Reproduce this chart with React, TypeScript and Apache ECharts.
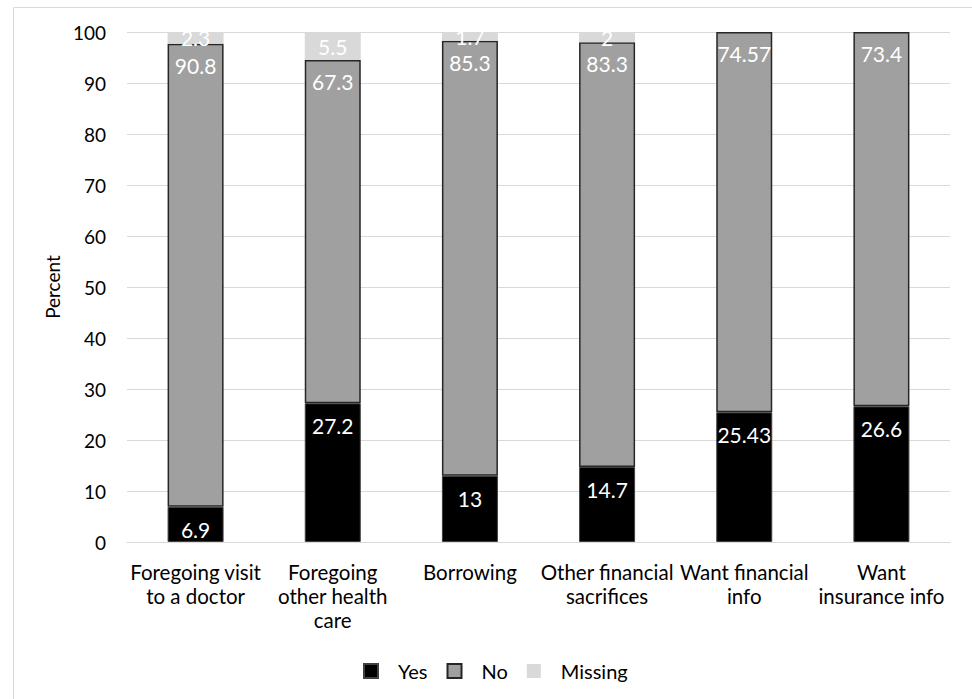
import React, { useEffect, useRef } from "react";
import * as echarts from "echarts";

const categories = [
  "Foregoing visit\nto a doctor",
  "Foregoing\nother health\ncare",
  "Borrowing",
  "Other financial\nsacrifices",
  "Want financial\ninfo",
  "Want\ninsurance info",
];
const yesValues = [6.9, 27.2, 13, 14.7, 25.43, 26.6];
const noValues = [90.8, 67.3, 85.3, 83.3, 74.57, 73.4];
const missingValues = [2.3, 5.5, 1.7, 2, null, null];
const seriesNames = ["Yes", "No", "Missing"];

const FONT = "Lato";

export default function App() {
  const ref = useRef<HTMLDivElement>(null);
  useEffect(() => {
    document.body.style.margin = "0";
    const chart = echarts.init(ref.current!, null, { renderer: "svg" });
    const labelBase = {
      show: true,
      color: "#ffffff",
      fontFamily: FONT,
      fontSize: 21,
    };
    chart.setOption({
      animation: false,
      textStyle: { fontFamily: FONT },
      grid: { left: 127, right: 22, top: 32, bottom: 157 },
      graphic: [
        {
          type: "rect",
          silent: true,
          z: -10,
          shape: { x: 13.5, y: 7.5, width: 1000, height: 1000 },
          style: { fill: "none", stroke: "#d9d9d9", lineWidth: 1 },
        },
        {
          type: "rect",
          silent: true,
          z: 100,
          shape: { x: 126, y: 8.5, width: 840, height: 22.8 },
          style: { fill: "#ffffff" },
        },
      ],
      legend: {
        data: seriesNames,
        left: 358,
        top: 656,
        icon: "rect",
        itemWidth: 14,
        itemHeight: 14,
        itemGap: 19,
        textStyle: {
          fontFamily: FONT,
          fontSize: 20,
          color: "#000",
          padding: [0, 0, 0, 15],
        },
      },
      xAxis: {
        type: "category",
        data: categories,
        axisLine: { show: true, lineStyle: { color: "#d9d9d9", width: 1 } },
        axisTick: { show: false },
        axisLabel: {
          color: "#000",
          fontFamily: FONT,
          fontSize: 20.5,
          lineHeight: 24,
          margin: 18,
          interval: 0,
        },
      },
      yAxis: {
        type: "value",
        min: 0,
        max: 100,
        interval: 10,
        name: "Percent",
        nameLocation: "middle",
        nameGap: 64,
        nameTextStyle: { color: "#000", fontFamily: FONT, fontSize: 19 },
        axisLine: { show: false },
        axisTick: { show: false },
        splitLine: { lineStyle: { color: "#d9d9d9", width: 1 } },
        axisLabel: { color: "#000", fontFamily: FONT, fontSize: 19, margin: 21 },
      },
      series: [
        {
          name: "Yes",
          type: "bar",
          stack: "total",
          barWidth: 56,
          data: yesValues,
          itemStyle: { color: "#000000", borderColor: "#404040", borderWidth: 1 },
          label: { ...labelBase, position: "insideTop", distance: 12 },
        },
        {
          name: "No",
          type: "bar",
          stack: "total",
          barWidth: 56,
          data: noValues,
          itemStyle: { color: "#a0a0a0", borderColor: "#262626", borderWidth: 1.5 },
          label: { ...labelBase, position: "insideTop", distance: 11 },
        },
        {
          name: "Missing",
          type: "bar",
          stack: "total",
          barWidth: 56,
          data: missingValues,
          itemStyle: { color: "#d9d9d9" },
          label: { ...labelBase, position: "inside" },
        },
      ],
    });
    return () => chart.dispose();
  }, []);
  return <div ref={ref} style={{ width: 972, height: 699 }} />;
}
